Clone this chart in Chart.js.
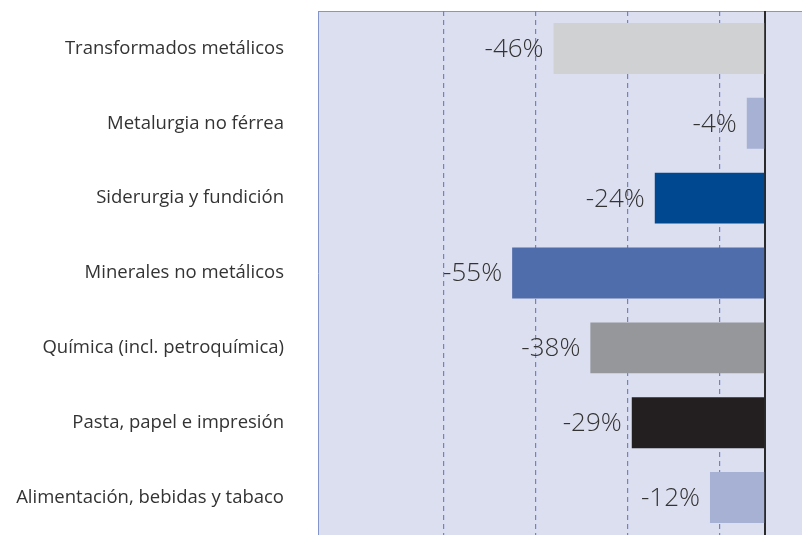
<!DOCTYPE html>
<html>
<head>
<meta charset="utf-8">
<script src="https://cdn.jsdelivr.net/npm/chart.js@4/dist/chart.umd.min.js"></script>
<style>
  html, body { margin: 0; padding: 0; background: #fff; }
  #wrap { width: 802px; height: 535px; position: relative; }
</style>
</head>
<body>
<div id="wrap"><canvas id="sectorChart"></canvas></div>
<script>
// Sector data (values in %)
const sectors = [
    'Transformados metálicos',
    'Metalurgia no férrea',
    'Siderurgia y fundición',
    'Minerales no metálicos',
    'Química (incl. petroquímica)',
    'Pasta, papel e impresión',
    'Alimentación, bebidas y tabaco'
];
const changes = [-46, -4, -24, -55, -38, -29, -12];
const barColors = ['#d0d1d3', '#a6b1d4', '#004990', '#4f6dab', '#96979b', '#231f20', '#a6b1d4'];
const gridTicks = [-70, -50, -30, -10, 0];

// Plot background, top border and value labels
const plotDecor = {
    id: 'plotDecor',
    beforeDraw(chart) {
        const { ctx, chartArea: a } = chart;
        ctx.save();
        ctx.fillStyle = '#dcdff0';
        ctx.fillRect(a.left, a.top, a.right - a.left, a.bottom - a.top);
        ctx.strokeStyle = '#8495cc';
        ctx.lineWidth = 1;
        ctx.beginPath();
        ctx.moveTo(a.left, a.top + 0.5);
        ctx.lineTo(a.right, a.top + 0.5);
        ctx.stroke();
        ctx.restore();
    },
    afterDatasetsDraw(chart) {
        const { ctx } = chart;
        const meta = chart.getDatasetMeta(0);
        ctx.save();
        ctx.font = '300 26px "Open Sans"';
        ctx.fillStyle = '#333333';
        ctx.textAlign = 'right';
        ctx.textBaseline = 'middle';
        meta.data.forEach((bar, i) => {
            ctx.fillText(changes[i] + '%', bar.x - 10, bar.y + 1);
        });
        ctx.restore();
    }
};

new Chart(document.getElementById('sectorChart'), {
    type: 'bar',
    data: {
        labels: sectors,
        datasets: [{
            data: changes,
            backgroundColor: barColors,
            borderWidth: 0,
            barPercentage: 0.68,
            categoryPercentage: 1
        }]
    },
    options: {
        indexAxis: 'y',
        responsive: true,
        maintainAspectRatio: false,
        animation: false,
        layout: { padding: { top: 11, right: 0, bottom: 0, left: 0 } },
        plugins: {
            legend: { display: false },
            tooltip: { enabled: false }
        },
        scales: {
            x: {
                min: -97.2,
                max: 8,
                afterBuildTicks: function(scale) {
                    scale.ticks = gridTicks.map(v => ({ value: v }));
                },
                afterFit: function(scale) {
                    scale.height = 0;
                    scale.paddingLeft = 0;
                    scale.paddingRight = 0;
                },
                ticks: { display: false },
                grid: {
                    drawTicks: false,
                    color: ctx => (ctx.tick && ctx.tick.value === 0) ? '#2a2a2a' : '#6f84c2',
                    lineWidth: ctx => (ctx.tick && ctx.tick.value === 0) ? 2 : 1.2
                },
                border: {
                    display: false,
                    dash: ctx => (ctx.tick && ctx.tick.value === 0) ? [] : [5, 4]
                }
            },
            y: {
                afterFit: function(scale) {
                    scale.width = 318;
                    scale.paddingTop = 0;
                    scale.paddingBottom = 0;
                },
                ticks: {
                    padding: 34,
                    color: '#333333',
                    font: { family: '"Open Sans"', size: 18.5 }
                },
                grid: { display: false, drawTicks: false },
                border: { display: true, color: '#8495cc', width: 1 }
            }
        }
    },
    plugins: [plotDecor]
});
</script>
</body>
</html>
